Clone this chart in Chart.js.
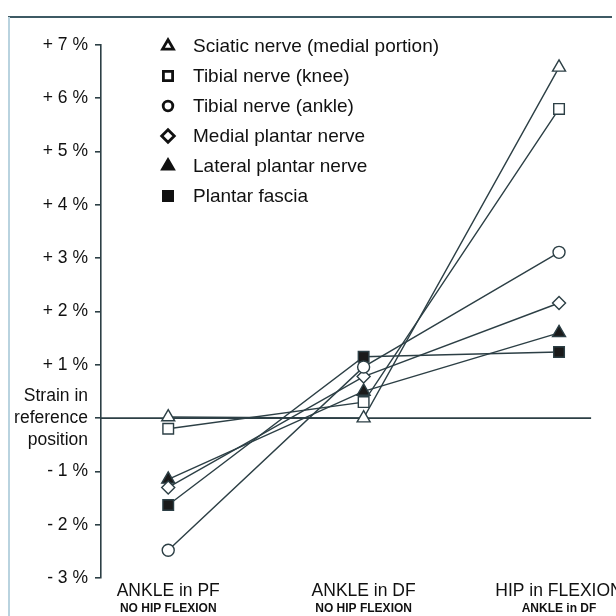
<!DOCTYPE html>
<html>
<head>
<meta charset="utf-8">
<script src="https://cdn.jsdelivr.net/npm/chart.js@4.4.0/dist/chart.umd.min.js"></script>
<style>
  html, body { margin: 0; padding: 0; background: #fff; }
  #wrap { position: relative; width: 616px; height: 616px; }
</style>
</head>
<body>
<div id="wrap"><canvas id="strainchart"></canvas></div>
<script>
// positions along the x axis
var positions = ['ANKLE in PF', 'ANKLE in DF', 'HIP in FLEXION'];
var subPositions = ['NO HIP FLEXION', 'NO HIP FLEXION', 'ANKLE in DF'];

// strain (%) per structure
var nerveNames = ['Sciatic nerve (medial portion)', 'Tibial nerve (knee)', 'Tibial nerve (ankle)',
                  'Medial plantar nerve', 'Lateral plantar nerve', 'Plantar fascia'];
var sciatic = [0.02, 0.0, 6.58];
var tibialKnee = [-0.2, 0.3, 5.8];
var tibialAnkle = [-2.48, 0.96, 3.11];
var medialPlantar = [-1.3, 0.78, 2.16];
var lateralPlantar = [-1.15, 0.5, 1.6];
var plantarFascia = [-1.63, 1.15, 1.24];

var yTicks = [-3, -2, -1, 0, 1, 2, 3, 4, 5, 6, 7];
var zeroLabel = ['Strain in', 'reference', 'position'];

var lineColor = '#2c3f45';
var textColor = '#111';

function tickText(v) {
    if (v === 0) return zeroLabel;
    if (v > 0) return '+ ' + v + ' %';
    return '- ' + Math.abs(v) + ' %';
}

function makeSet(label, values, style, filled, radius) {
    return {
        label: label,
        data: values.map((v, i) => ({ x: i, y: v })),
        borderColor: lineColor,
        borderWidth: 1.4,
        pointStyle: style,
        pointRadius: radius,
        pointBorderWidth: 1.4,
        pointBorderColor: lineColor,
        pointBackgroundColor: filled ? '#1a1a1a' : '#fff',
        fill: false,
        tension: 0
    };
}

var datasets = [
    makeSet(nerveNames[0], sciatic, 'triangle', false, 7.5),
    makeSet(nerveNames[1], tibialKnee, 'rect', false, 7.5),
    makeSet(nerveNames[2], tibialAnkle, 'circle', false, 6),
    makeSet(nerveNames[3], medialPlantar, 'rectRot', false, 6.5),
    makeSet(nerveNames[4], lateralPlantar, 'triangle', true, 7.5),
    makeSet(nerveNames[5], plantarFascia, 'rect', true, 7.5)
];

// frame, reference line, legend and two-line x labels
var decorations = {
    id: 'decorations',
    beforeDraw: function (chart) {
        var ctx = chart.ctx;
        ctx.save();
        ctx.fillStyle = '#fff';
        ctx.fillRect(0, 0, chart.width, chart.height);
        ctx.strokeStyle = '#3e5a64';
        ctx.lineWidth = 2;
        ctx.beginPath();
        ctx.moveTo(8, 17);
        ctx.lineTo(612, 17);
        ctx.stroke();
        ctx.strokeStyle = '#b9d3df';
        ctx.beginPath();
        ctx.moveTo(9, 17);
        ctx.lineTo(9, 616);
        ctx.stroke();
        ctx.restore();
    },
    beforeDatasetsDraw: function (chart) {
        var ctx = chart.ctx, y = chart.scales.y.getPixelForValue(0);
        ctx.save();
        ctx.strokeStyle = lineColor;
        ctx.lineWidth = 1.6;
        ctx.beginPath();
        ctx.moveTo(chart.chartArea.left, y);
        ctx.lineTo(chart.chartArea.right - 16, y);
        ctx.stroke();
        ctx.restore();
    },
    afterDraw: function (chart) {
        var ctx = chart.ctx, xs = chart.scales.x;
        ctx.save();
        ctx.textAlign = 'center';
        ctx.textBaseline = 'middle';
        ctx.fillStyle = textColor;
        positions.forEach(function (p, i) {
            var px = xs.getPixelForValue(i);
            ctx.font = '17.5px "Liberation Sans", Arial, sans-serif';
            ctx.fillText(p, px, 591);
            ctx.font = 'bold 12px "Liberation Sans", Arial, sans-serif';
            ctx.fillText(subPositions[i], px, 609);
        });

        // legend
        ctx.textAlign = 'left';
        ctx.font = '19px "Liberation Sans", Arial, sans-serif';
        chart.data.datasets.forEach(function (ds, i) {
            var ly = 46 + i * 30;
            var filled = ds.pointBackgroundColor !== '#fff';
            ctx.fillStyle = filled ? '#111' : '#fff';
            ctx.strokeStyle = '#111';
            ctx.lineWidth = 2.8;
            Chart.helpers.drawPoint(ctx, {
                pointStyle: ds.pointStyle,
                radius: ds.pointStyle === 'rect' ? 6.5 : (ds.pointStyle === 'circle' ? 4.8 : 6.3),
                rotation: 0,
                borderWidth: 2.8
            }, 168, ly);
            ctx.fillStyle = textColor;
            ctx.fillText(ds.label, 193, ly + 1);
        });
        ctx.restore();
    }
};

new Chart('strainchart', {
    type: 'line',
    data: { datasets: datasets },
    options: {
        responsive: true,
        maintainAspectRatio: false,
        animation: false,
        layout: { padding: { top: 45, bottom: 38, left: 0, right: 0 } },
        plugins: {
            legend: { display: false },
            tooltip: { enabled: false }
        },
        scales: {
            x: {
                type: 'linear',
                display: false,
                min: -0.344,
                max: 2.246
            },
            y: {
                min: yTicks[0],
                max: yTicks[yTicks.length - 1],
                afterFit: function (scale) { scale.width = 101; },
                afterBuildTicks: function (scale) {
                    scale.ticks = yTicks.map(v => ({ value: v }));
                },
                border: { color: lineColor, width: 1.6 },
                grid: {
                    drawOnChartArea: false,
                    drawTicks: true,
                    tickLength: 6,
                    color: lineColor,
                    lineWidth: 1.6
                },
                ticks: {
                    autoSkip: false,
                    padding: 7,
                    color: textColor,
                    font: { family: '"Liberation Sans", Arial, sans-serif', size: 17.5, lineHeight: 1.25 },
                    callback: function (v) { return tickText(v); }
                }
            }
        }
    },
    plugins: [decorations]
});
</script>
</body>
</html>
